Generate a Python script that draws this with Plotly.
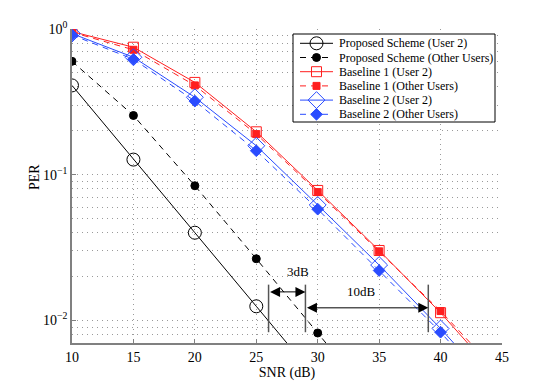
import plotly.graph_objects as go
import math

# === Data ===
snr = [10, 15, 20, 25, 30, 35, 40, 45]

prop_user2 = [0.41, 0.127, 0.040, 0.0125, 0.0039, None, None, None]
prop_other = [0.60, 0.255, 0.084, 0.0265, 0.0082, 0.0025, None, None]
base1_user2 = [0.96, 0.75, 0.43, 0.197, 0.078, 0.0302, 0.0113, 0.0038]
base1_other = [0.95, 0.72, 0.41, 0.190, 0.076, 0.0298, 0.0116, 0.0041]
base2_user2 = [0.93, 0.64, 0.34, 0.158, 0.062, 0.0240, 0.0088, 0.0030]
base2_other = [0.91, 0.62, 0.32, 0.146, 0.058, 0.0220, 0.0083, 0.0028]

names = ["Proposed Scheme (User 2)", "Proposed Scheme (Other Users)",
         "Baseline 1 (User 2)", "Baseline 1 (Other Users)",
         "Baseline 2 (User 2)", "Baseline 2 (Other Users)"]

# gap annotation (SNR in dB, PER)
gap_lines_x = [26, 29, 39]
gap_lines_per = [0.0176, 0.0083]
arrow3_per = 0.0157
arrow10_per = 0.0122
label3 = ("3dB", 28.4, 0.0218)
label10 = ("10dB", 33.6, 0.0157)

RED = "#ff1f1f"
BLUE = "#2a4cff"
FONT = "Liberation Serif, Times New Roman, serif"
DASH = "6px,5px"

# page-pixel frame of the plot area (the page body has an 8px margin)
PX_L, PX_R, PX_T, PX_B = 72, 502, 29, 343
OFF = 8
W, H = 554 - OFF, 386 - OFF

styles = [
    ("black", "solid", "circle-open", 13, "black"),
    ("black", DASH, "circle", 8, "black"),
    (RED, "solid", "square-open", 10, RED),
    (RED, DASH, "square", 7, RED),
    (BLUE, "solid", "diamond-open", 13, BLUE),
    (BLUE, DASH, "diamond", 9, BLUE),
]
series = [prop_user2, prop_other, base1_user2, base1_other, base2_user2, base2_other]

fig = go.Figure()

for y, name, (color, dash, symbol, size, mcol) in zip(series, names, styles):
    fig.add_trace(go.Scatter(
        x=snr, y=y, name=name, mode="lines+markers", showlegend=False,
        line=dict(color=color, width=1, dash=dash),
        marker=dict(symbol=symbol, size=size, color=mcol,
                    line=dict(color=color, width=1))))

# vertical marker lines for the gaps
vx, vy = [], []
for gx in gap_lines_x:
    vx += [gx, gx, None]
    vy += [gap_lines_per[0], gap_lines_per[1], None]
fig.add_trace(go.Scatter(x=vx, y=vy, mode="lines", showlegend=False,
                         line=dict(color="#555555", width=1.5), hoverinfo="skip"))

# double arrows
for (xa, xb, per) in [(gap_lines_x[0], gap_lines_x[1], arrow3_per),
                      (gap_lines_x[1], gap_lines_x[2], arrow10_per)]:
    fig.add_annotation(x=xb, y=math.log10(per), ax=xa, ay=math.log10(per),
                       xref="x", yref="y", axref="x", ayref="y",
                       text="", showarrow=True, arrowhead=2, startarrowhead=2,
                       arrowside="end+start", arrowsize=2, startarrowsize=2,
                       arrowwidth=1, arrowcolor="black")

for txt, lx, lp in [label3, label10]:
    fig.add_annotation(x=lx, y=math.log10(lp), xref="x", yref="y", text=txt,
                       showarrow=False, font=dict(family=FONT, size=13, color="black"))

# === hand-made legend on an overlay axis in page pixels ===
box_x = [293, 495]
box_y = [34, 122]
row0, row_step = 43.3, 14.2
samp_x = [300, 333]
text_x = 337

fig.add_trace(go.Scatter(
    x=[box_x[0], box_x[1], box_x[1], box_x[0], box_x[0]],
    y=[box_y[0], box_y[0], box_y[1], box_y[1], box_y[0]],
    xaxis="x2", yaxis="y2", mode="lines", fill="toself", fillcolor="white",
    line=dict(color="black", width=1), showlegend=False, hoverinfo="skip"))

for i, (name, (color, dash, symbol, size, mcol)) in enumerate(zip(names, styles)):
    ry = row0 + i * row_step
    fig.add_trace(go.Scatter(
        x=samp_x, y=[ry, ry], xaxis="x2", yaxis="y2", mode="lines",
        line=dict(color=color, width=1, dash=dash), showlegend=False, hoverinfo="skip"))
    fig.add_trace(go.Scatter(
        x=[sum(samp_x) / 2], y=[ry], xaxis="x2", yaxis="y2", mode="markers",
        marker=dict(symbol=symbol, size=size, color=mcol, line=dict(color=color, width=1)),
        showlegend=False, hoverinfo="skip"))
    fig.add_annotation(x=text_x, y=ry, xref="x2", yref="y2", text=name,
                       xanchor="left", yanchor="middle", showarrow=False,
                       font=dict(family=FONT, size=12, color="black"))

# y-axis title placed by hand (sits a little above the axis centre)
fig.add_annotation(x=(34 - PX_L) / (PX_R - PX_L), y=(PX_B - 177) / (PX_B - PX_T),
                   xref="paper", yref="paper", text="PER", textangle=-90,
                   xanchor="center", yanchor="middle",
                   showarrow=False, font=dict(family=FONT, size=14, color="black"))

minor_vals = [m * 10 ** k for k in (-3, -2, -1) for m in range(2, 10)]
GRID = dict(showgrid=True, gridcolor="#9a9a9a", griddash="1px,4px", gridwidth=1)

fig.update_layout(
    width=W, height=H,
    margin=dict(l=PX_L - OFF, r=W + OFF - PX_R, t=PX_T - OFF, b=H + OFF - PX_B),
    paper_bgcolor="white", plot_bgcolor="white",
    font=dict(family=FONT, size=14, color="black"),
    showlegend=False,
    xaxis=dict(
        range=[10, 45], dtick=5, tick0=10,
        showline=True, linecolor="#808080", linewidth=1.5,
        ticks="inside", ticklen=4, tickcolor="#808080",
        zeroline=False, automargin=False,
        title=dict(text="SNR (dB)", font=dict(family=FONT, size=14), standoff=2),
        tickfont=dict(family=FONT, size=14),
        **GRID,
    ),
    yaxis=dict(
        type="log", range=[math.log10(0.007), 0],
        tickmode="array", tickvals=[0.01, 0.1, 1],
        ticktext=["10<sup>\u22122</sup>", "10<sup>\u22121</sup>", "10<sup>0</sup>"],
        showline=True, linecolor="#808080", linewidth=1.5,
        ticks="inside", ticklen=4, tickcolor="#808080",
        minor=dict(tickmode="array", tickvals=minor_vals, ticks="", **GRID),
        zeroline=False, automargin=False,
        tickfont=dict(family=FONT, size=14),
        **GRID,
    ),
    xaxis2=dict(overlaying="x", range=[PX_L, PX_R], visible=False, anchor="y2"),
    yaxis2=dict(overlaying="y", range=[PX_B, PX_T], visible=False, anchor="x2"),
)

fig.write_html("out.html")
